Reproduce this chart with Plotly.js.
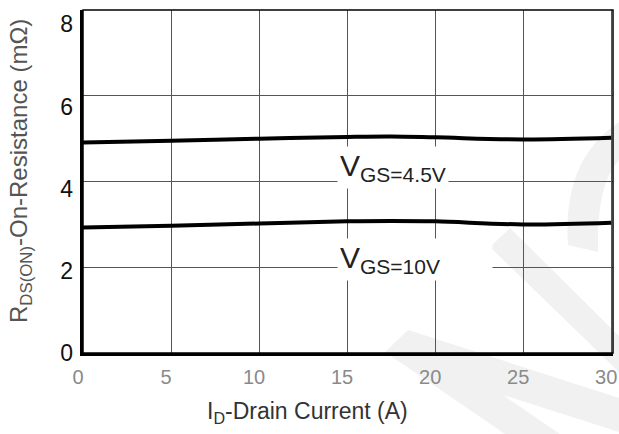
<!DOCTYPE html>
<html>
<head>
<meta charset="utf-8">
<script src="https://cdn.plot.ly/plotly-3.0.1.min.js"></script>
<style>html,body{margin:0;padding:0;background:#fff;}</style>
</head>
<body>
<div id="chart" style="width:619px;height:434px;"></div>
<script>
// ---- data ----
const drainCurrent = [0, 5, 10, 15, 17.5, 20, 25, 30];
const rdsVgs45 = [4.91, 4.95, 5.0, 5.04, 5.05, 5.03, 4.98, 5.02];
const rdsVgs10 = [2.93, 2.97, 3.02, 3.07, 3.08, 3.07, 3.0, 3.04];
const xTickVals = [0, 5, 10, 15, 20, 25, 30];
const yTickVals = [0, 2, 4, 6, 8];
const seriesLabels = ['V<sub>GS=4.5V</sub>', 'V<sub>GS=10V</sub>'];

// plot area in pixels (for the faint watermark / title placement only)
const L = 83, R = 613, T = 10, B = 353;
function P(px, py) { return ((px - L) / (R - L)).toFixed(4) + ',' + ((B - py) / (B - T)).toFixed(4); }
const wm = '#f1f1f1';

const traces = [
  {x: drainCurrent, y: rdsVgs45, mode: 'lines', line: {color: '#000', width: 4, shape: 'spline'}, hoverinfo: 'skip', showlegend: false},
  {x: drainCurrent, y: rdsVgs10, mode: 'lines', line: {color: '#000', width: 4, shape: 'spline'}, hoverinfo: 'skip', showlegend: false},
  // empty trace so the label axis is drawn
  {x: [], y: [], xaxis: 'x', yaxis: 'y2', mode: 'lines', hoverinfo: 'skip', showlegend: false}
];

const font = 'Liberation Sans, Arial, sans-serif';

const layout = {
  width: 619, height: 434,
  margin: {l: 83, r: 6, t: 10, b: 81},
  paper_bgcolor: '#fff',
  plot_bgcolor: 'rgba(0,0,0,0)',
  showlegend: false,
  font: {family: font},
  xaxis: {
    range: [0, 30.1], tickvals: xTickVals, ticks: '',
    showgrid: true, gridcolor: '#555', gridwidth: 1,
    showline: true, linecolor: '#000', linewidth: 3, zeroline: false,
    tickfont: {family: font, size: 20, color: '#8a8a8a'},
    ticklabelshift: -5, ticklabelstandoff: 4
  },
  yaxis: {
    range: [0, 8], tickvals: yTickVals, ticks: '',
    showgrid: true, gridcolor: '#555', gridwidth: 1,
    showline: true, linecolor: '#000', linewidth: 3, zeroline: false,
    showticklabels: false
  },
  yaxis2: {
    overlaying: 'y', anchor: 'x', side: 'left',
    range: [-0.002, 8.35], tickvals: yTickVals, ticks: '',
    showgrid: false, showline: false, zeroline: false,
    tickfont: {family: font, size: 23, color: '#111'}, ticklabelstandoff: 9
  },
  shapes: [
    // faint watermark
    {type: 'path', xref: 'paper', yref: 'paper', layer: 'below', line: {width: 0}, fillcolor: wm,
     path: 'M' + P(490, 247) + ' L' + P(510, 228) + ' L' + P(619, 336) + ' L' + P(619, 372) + ' Z'},
    {type: 'path', xref: 'paper', yref: 'paper', layer: 'below', line: {width: 0}, fillcolor: wm,
     path: 'M' + P(385, 352) + ' L' + P(408, 330) + ' L' + P(560, 434) + ' L' + P(505, 434) + ' Z'},
    {type: 'path', xref: 'paper', yref: 'paper', layer: 'below', line: {width: 0}, fillcolor: wm,
     path: 'M' + P(408, 330) + ' L' + P(619, 398) + ' L' + P(619, 432) + ' L' + P(450, 378) + ' Z'},
    {type: 'path', xref: 'paper', yref: 'paper', layer: 'below', line: {width: 0}, fillcolor: wm,
     path: 'M' + P(619, 122) + ' Q' + P(562, 160) + ' ' + P(568, 245) + ' L' + P(598, 252) + ' Q' + P(596, 185) + ' ' + P(619, 160) + ' Z'},
    // thin frame
    {type: 'rect', xref: 'paper', yref: 'paper', x0: 0, x1: 1, y0: 0, y1: 1, line: {color: '#000', width: 1.5}, layer: 'above'}
  ],
  annotations: [
    {x: 17.6, y: 4.33, xref: 'x', yref: 'y', text: seriesLabels[0], showarrow: false,
     font: {family: font, size: 30, color: '#222'}, bgcolor: '#fff', borderpad: 2, xanchor: 'center', yanchor: 'middle'},
    {x: 14.4, y: 2.18, xref: 'x', yref: 'y', text: seriesLabels[1], showarrow: false, width: 150, align: 'left',
     font: {family: font, size: 30, color: '#222'}, bgcolor: '#fff', borderpad: 2, xanchor: 'left', yanchor: 'middle'},
    {x: (307 - L) / (R - L), y: (B - 413) / (B - T), xref: 'paper', yref: 'paper', showarrow: false,
     text: 'I<sub>D</sub>-Drain Current (A)', font: {family: font, size: 23, color: '#333'}, xanchor: 'center', yanchor: 'middle'},
    {x: (20 - L) / (R - L), y: (B - 171) / (B - T), xref: 'paper', yref: 'paper', showarrow: false, textangle: -90,
     text: 'R<sub>DS(ON)</sub>-On-Resistance (mΩ)', font: {family: font, size: 24, color: '#555'}, xanchor: 'center', yanchor: 'middle'}
  ]
};

Plotly.newPlot('chart', traces, layout, {displayModeBar: false, staticPlot: true});
</script>
</body>
</html>
